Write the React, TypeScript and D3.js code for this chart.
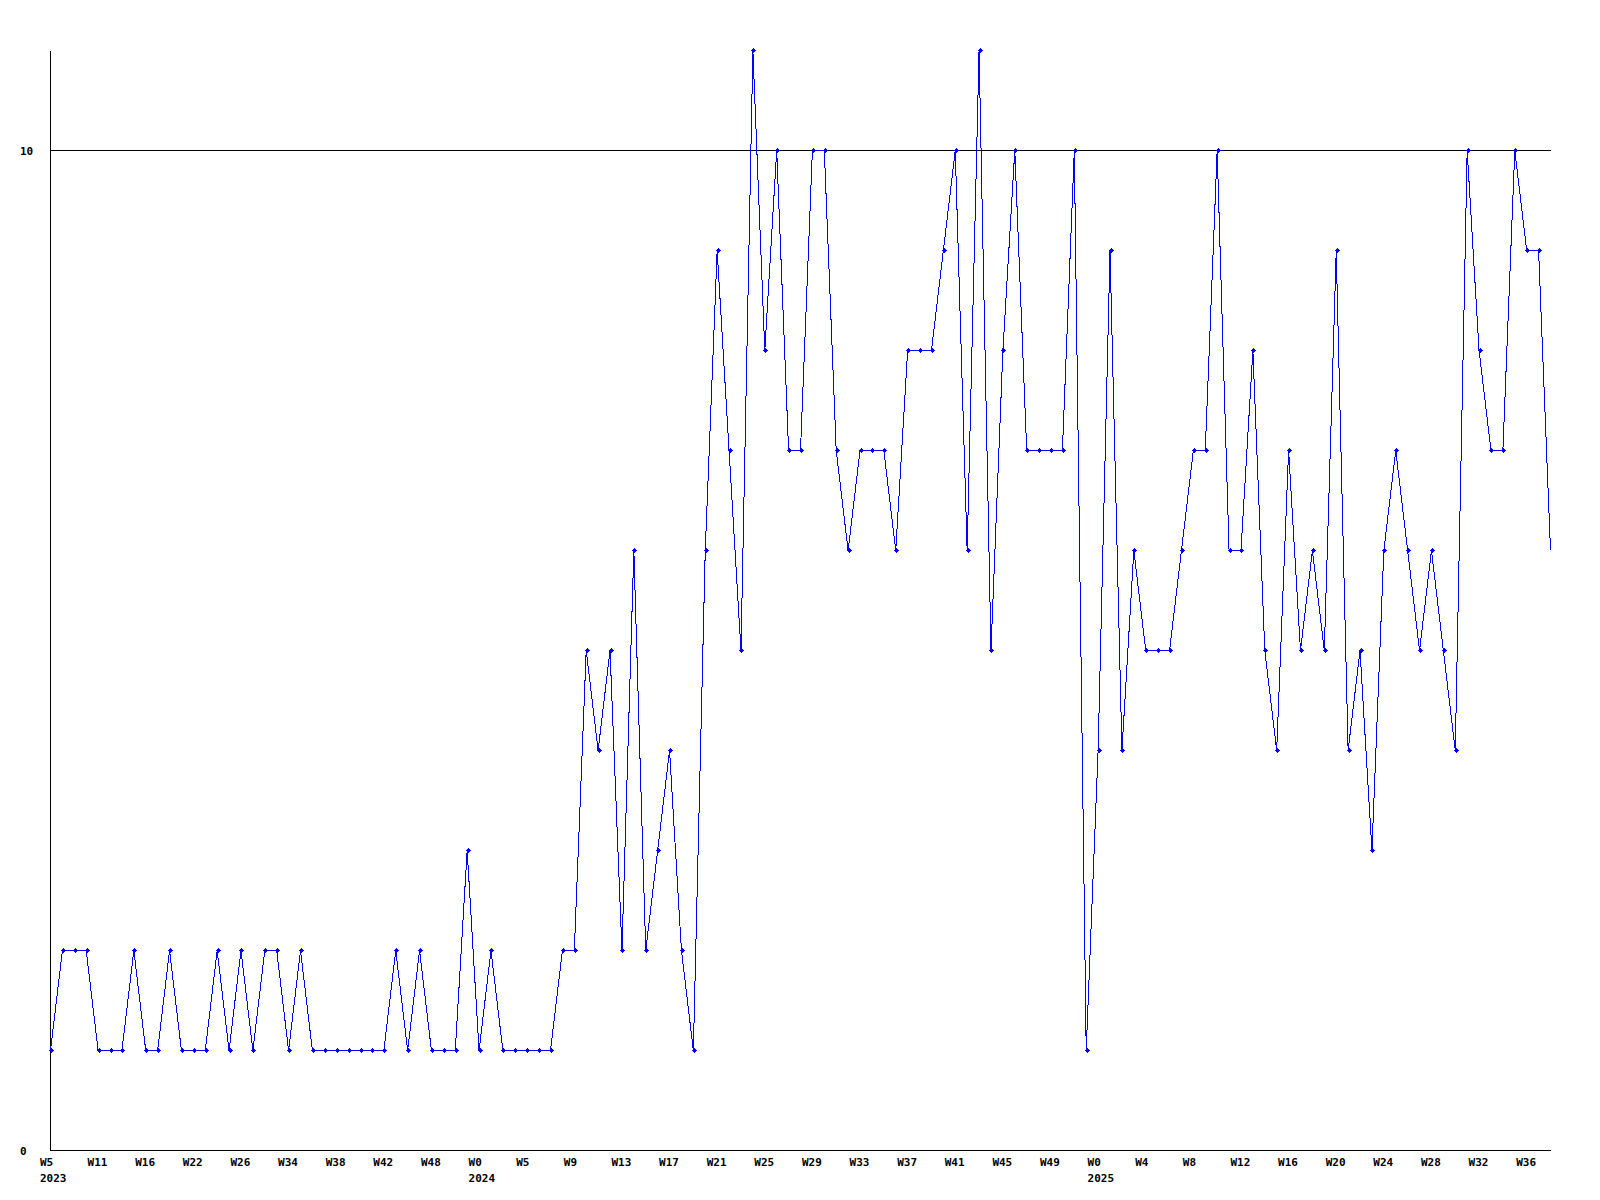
import React from "react";
import * as d3 from "d3";

const values: number[] = [
  1, 2, 2, 2, 1, 1, 1, 2, 1, 1, 2, 1, 1, 1, 2, 1, 2, 1, 2, 2, 1, 2,
  1, 1, 1, 1, 1, 1, 1,
  2, 1, 2, 1, 1, 1, 3, 1, 2, 1, 1, 1, 1, 1,
  2, 2, 5, 4, 5, 2, 6, 2, 3, 4, 2, 1, 6, 9, 7, 5, 11, 8, 10, 7, 7, 10, 10, 7, 6, 7, 7,
  7, 6, 8, 8, 8, 9, 10, 6, 11, 5, 8, 10, 7, 7, 7, 7, 10, 1, 4, 9, 4, 6, 5, 5, 5, 6, 7, 7, 10,
  6, 6, 8, 5, 4, 7, 5, 6, 5, 9, 4, 5, 3, 6, 7, 6, 5, 6, 5, 4, 10, 8, 7, 7, 10, 9, 9, 6,
];

const weekLabels: string[] = [
  "W5", "W11", "W16", "W22", "W26", "W34", "W38", "W42", "W48", "W0", "W5",
  "W9", "W13", "W17", "W21", "W25", "W29", "W33", "W37", "W41", "W45", "W49",
  "W0", "W4", "W8", "W12", "W16", "W20", "W24", "W28", "W32", "W36",
];
const labelEvery = 4;

const yearLabels: { index: number; text: string }[] = [
  { index: 0, text: "2023" },
  { index: 36, text: "2024" },
  { index: 88, text: "2025" },
];

const yTicks: number[] = [0, 10];
const yMax = 11;

const FONT = "'DejaVu Sans Mono', 'Liberation Mono', monospace";

export default function App() {
  const W = 1600;
  const H = 1200;
  const x = d3.scaleLinear().domain([0, values.length - 1]).range([50.5, 1550.5]);
  const y = d3.scaleLinear().domain([0, yMax]).range([1150.5, 50.5]);
  const line = d3
    .line<number>()
    .x((_, i) => x(i))
    .y((d) => y(d));

  const left = 50.5;
  const right = x(values.length - 1) + 0.5;

  return (
    <svg
      width={W}
      height={H}
      viewBox={`0 0 ${W} ${H}`}
      style={{ position: "absolute", left: 0, top: 0, background: "#fff" }}
    >
      <rect x={0} y={0} width={W} height={H} fill="#fff" />
      {/* axes */}
      <line x1={left} x2={left} y1={y(yMax)} y2={y(0)} stroke="#000" strokeWidth={1} shapeRendering="crispEdges" />
      <line x1={left} x2={right} y1={y(0)} y2={y(0)} stroke="#000" strokeWidth={1} shapeRendering="crispEdges" />
      {yTicks
        .filter((t) => t !== 0)
        .map((t) => (
          <line key={t} x1={left} x2={right} y1={y(t)} y2={y(t)} stroke="#000" strokeWidth={1} shapeRendering="crispEdges" />
        ))}
      {yTicks.map((t) => (
        <text
          key={"yl" + t}
          x={20}
          y={y(t) + 4}
          fontFamily={FONT}
          fontWeight="bold"
          fontSize={11}
          fill="#000"
        >
          {t}
        </text>
      ))}
      {/* data line */}
      <path d={line(values) || ""} fill="none" stroke="#0000ff" strokeWidth={1} shapeRendering="crispEdges" />
      {values.slice(0, values.length - 1).map((v, i) => {
        const cx = Math.round(x(i) - 0.5) + 0.5;
        const cy = Math.round(y(v) - 0.5) + 0.5;
        return (
          <g key={"m" + i} shapeRendering="crispEdges">
            <path d={`M${cx - 2},${cy}H${cx + 3}M${cx + 0.5},${cy - 2.5}V${cy + 2.5}`} stroke="#0000ff" strokeWidth={1} fill="none" />
            <rect x={cx - 1} y={cy - 1.5} width={3} height={3} fill="#0000ff" />
          </g>
        );
      })}
      {/* x labels */}
      {weekLabels.map((lab, k) => (
        <text
          key={"xl" + k}
          x={x(k * labelEvery) - 10.5}
          y={1166}
          fontFamily={FONT}
          fontWeight="bold"
          fontSize={11}
          fill="#000"
        >
          {lab}
        </text>
      ))}
      {yearLabels.map((yl) => (
        <text
          key={"yr" + yl.index}
          x={x(yl.index) - 10.5}
          y={1182}
          fontFamily={FONT}
          fontWeight="bold"
          fontSize={11}
          fill="#000"
        >
          {yl.text}
        </text>
      ))}
    </svg>
  );
}
